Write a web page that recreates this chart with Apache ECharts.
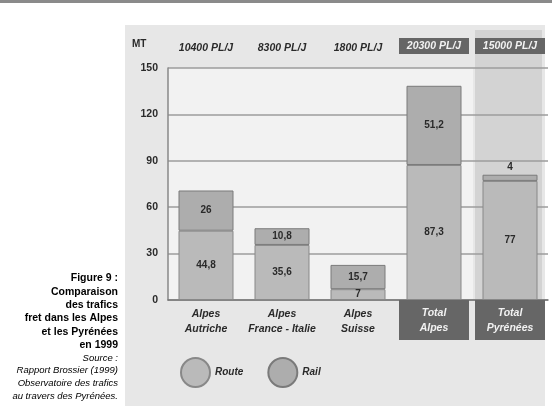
<!DOCTYPE html>
<html>
<head>
<meta charset="utf-8">
<script src="https://cdn.jsdelivr.net/npm/echarts@6/dist/echarts.min.js"></script>
<style>
  html, body { margin: 0; padding: 0; background: #ffffff; }
  #chart { width: 552px; height: 406px; }
</style>
</head>
<body>
<div id="chart"></div>
<script>
// Freight traffic through the Alps and the Pyrenees, 1999 (millions of tonnes)
const categories = ['Alpes\nAutriche', 'Alpes\nFrance - Italie', 'Alpes\nSuisse', 'Total\nAlpes', 'Total\nPyrénées'];
const trucksPerDay = ['10400 PL/J', '8300 PL/J', '1800 PL/J', '20300 PL/J', '15000 PL/J'];
const route = [44.8, 35.6, 7, 87.3, 77];
const rail = [26, 10.8, 15.7, 51.2, 4];
const yTicks = { min: 0, max: 150, interval: 30 };
const totalIndexes = [3, 4];

const fmt = v => String(v).replace('.', ',');
const dark = '#666666';
const textCol = '#2a2a2a';

const chart = echarts.init(document.getElementById('chart'), null, { renderer: 'canvas' });

const bottomData = categories.map((c, i) => totalIndexes.includes(i)
  ? { value: c, textStyle: { color: '#f2f2f2', backgroundColor: dark, width: 70, padding: [6, 0, 4, 0], align: 'center' } }
  : { value: c, textStyle: { padding: [7, 0, 0, 0] } });

const topData = trucksPerDay.map((t, i) => totalIndexes.includes(i)
  ? { value: t, textStyle: { color: '#f2f2f2', backgroundColor: dark, width: 70, padding: [3, 0, 2, 0], align: 'center' } }
  : { value: t });

const barLabel = {
  show: true,
  position: 'inside',
  formatter: p => fmt(p.value),
  color: textCol,
  fontFamily: 'Liberation Sans',
  fontWeight: 'bold',
  fontSize: 10
};

chart.setOption({
  animation: false,
  backgroundColor: '#ffffff',
  textStyle: { fontFamily: 'Liberation Sans' },
  graphic: [
    { type: 'rect', z: -10, shape: { x: 0, y: 0, width: 552, height: 3 }, style: { fill: '#8a8a8a' } },
    { type: 'rect', z: -10, shape: { x: 125, y: 25, width: 420, height: 381 }, style: { fill: '#e7e7e7' } },
    { type: 'rect', z: -9, shape: { x: 168, y: 68, width: 305, height: 232 }, style: { fill: '#f2f2f2' } },
    { type: 'rect', z: -9, shape: { x: 475, y: 30, width: 67, height: 270 }, style: { fill: '#d3d3d3' } },
    {
      type: 'text', z: 5, left: 132, top: 39,
      style: { text: 'MT', fill: textCol, font: 'bold 10px "Liberation Sans"' }
    },
    {
      type: 'text', z: 5, right: 552 - 118, top: 273,
      style: {
        text: '{b|Figure 9 :}\n{b|Comparaison}\n{b|des trafics}\n{b|fret dans les Alpes}\n{b|et les Pyrénées}\n{b|en 1999}\n{i|Source :}\n{i|Rapport Brossier (1999)}\n{i|Observatoire des trafics}\n{i|au travers des Pyrénées.}',
        align: 'right',
        rich: {
          b: { fontFamily: 'Liberation Sans', fontWeight: 'bold', fontSize: 10.5, lineHeight: 13.3, color: textCol, align: 'right' },
          i: { fontFamily: 'Liberation Sans', fontStyle: 'italic', fontSize: 9.5, lineHeight: 12.7, color: '#6a6a6a', align: 'right' }
        }
      }
    }
  ],
  legend: {
    left: 175, top: 352,
    icon: 'circle',
    itemWidth: 29, itemHeight: 29,
    itemGap: 24,
    textStyle: { color: textCol, fontWeight: 'bold', fontStyle: 'italic', fontSize: 10 },
    data: ['Route', 'Rail']
  },
  grid: { left: 168, right: 4, top: 68, bottom: 106 },
  xAxis: [
    {
      type: 'category', position: 'bottom', data: bottomData,
      axisLine: { show: true, lineStyle: { color: '#777', width: 1.5 } },
      axisTick: { show: false },
      axisLabel: {
        margin: 0, interval: 0,
        color: textCol, fontWeight: 'bold', fontStyle: 'italic', fontSize: 10.5, lineHeight: 15
      }
    },
    {
      type: 'category', position: 'top', data: topData,
      axisLine: { show: false }, axisTick: { show: false },
      axisLabel: {
        margin: 14, interval: 0,
        color: textCol, fontWeight: 'bold', fontStyle: 'italic', fontSize: 10.5
      }
    }
  ],
  yAxis: {
    type: 'value', min: yTicks.min, max: yTicks.max, interval: yTicks.interval,
    axisLine: { show: true, lineStyle: { color: '#888', width: 1.5 } },
    axisTick: { show: false },
    axisLabel: { color: textCol, fontWeight: 'bold', fontSize: 10.5, margin: 10 },
    splitLine: { lineStyle: { color: '#9c9c9c', width: 1.5 } }
  },
  series: [
    {
      name: 'Route', type: 'bar', stack: 'fret', barWidth: 55,
      data: route,
      itemStyle: { color: '#bababa', borderColor: '#888', borderWidth: 1 },
      label: barLabel
    },
    {
      name: 'Rail', type: 'bar', stack: 'fret', barWidth: 55,
      data: rail.map((v, i) => i === 4
        ? { value: v, label: { position: 'top', distance: 2 } }
        : v),
      itemStyle: { color: '#adadad', borderColor: '#7a7a7a', borderWidth: 1 },
      label: barLabel
    }
  ]
});
</script>
</body>
</html>
